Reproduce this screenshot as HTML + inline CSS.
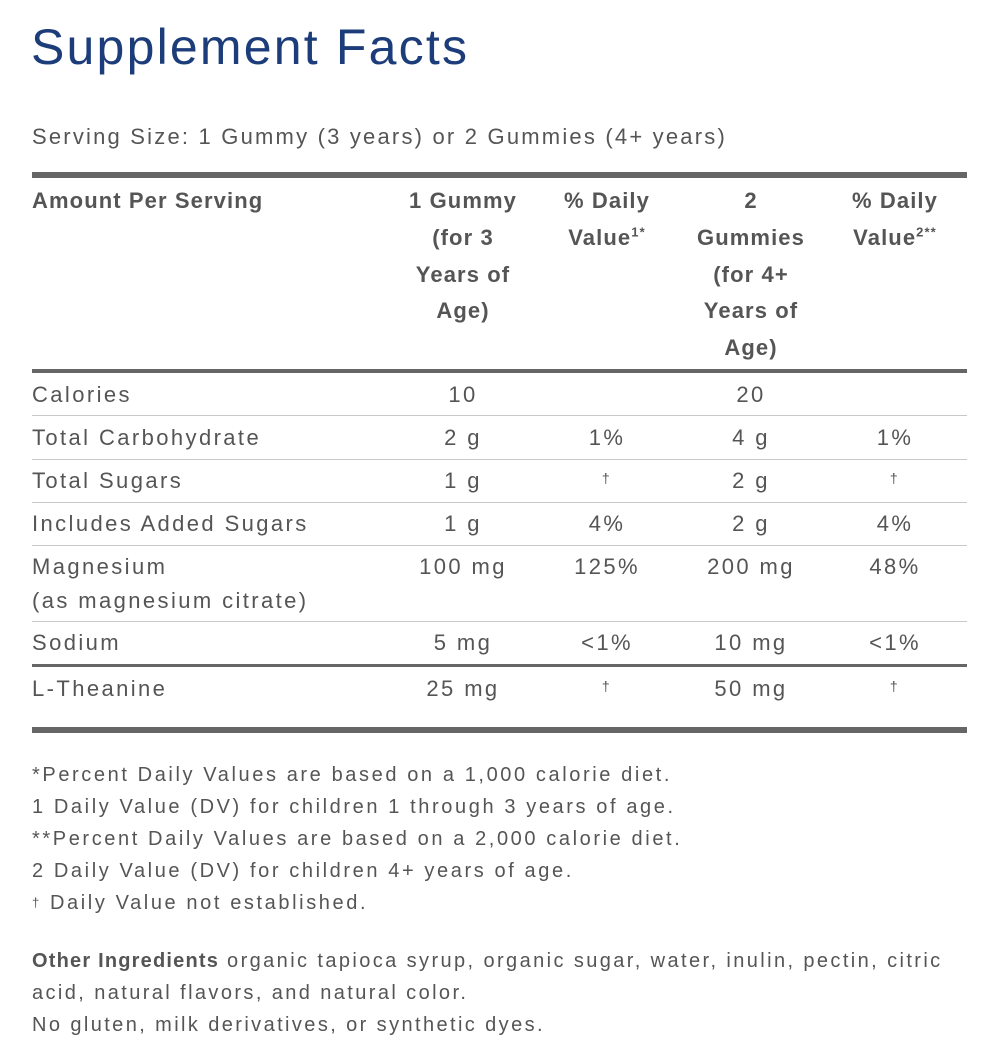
<!DOCTYPE html>
<html><head><meta charset="utf-8"><style>
body{margin:0;width:1000px;height:1047px;background:#fff;position:relative;font-family:"Liberation Sans",sans-serif;color:#555;overflow:hidden}
.a{position:absolute;white-space:nowrap}
.t{font-size:22px;line-height:24px;letter-spacing:2.4px}
.c{text-align:center;transform:translateX(-50%)}
.h{font-weight:bold;font-size:22px;line-height:36.8px;text-align:center;transform:translateX(-50%);letter-spacing:1.1px}
.l{position:absolute;left:32px;width:935px}
sup{font-size:13px;line-height:0}
</style></head><body>
<div class="a" style="left:31px;top:18px;font-size:50px;color:#1c3d7a;line-height:58px;letter-spacing:2.2px">Supplement Facts</div>
<div class="a" style="left:32px;top:125px;font-size:22px;line-height:24px;letter-spacing:2.2px">Serving Size: 1 Gummy (3 years) or 2 Gummies (4+ years)</div>
<div class="l" style="top:172px;height:6px;background:#666"></div>
<div class="a" style="left:32px;top:183px;font-weight:bold;font-size:22px;line-height:36.8px;letter-spacing:1.1px">Amount Per Serving</div>
<div class="a h" style="left:463px;top:183px">1 Gummy<br>(for 3<br>Years of<br>Age)</div>
<div class="a h" style="left:607px;top:183px">% Daily<br>Value<sup>1*</sup></div>
<div class="a h" style="left:751px;top:183px">2<br>Gummies<br>(for 4+<br>Years of<br>Age)</div>
<div class="a h" style="left:895px;top:183px">% Daily<br>Value<sup>2**</sup></div>
<div class="l" style="top:369px;height:4px;background:#666"></div>

<div class="a t" style="left:32px;top:383px">Calories</div>
<div class="a t c" style="left:463px;top:383px">10</div>
<div class="a t c" style="left:751px;top:383px">20</div>
<div class="l" style="top:415px;height:1px;background:#c8c8c8"></div>

<div class="a t" style="left:32px;top:426px">Total Carbohydrate</div>
<div class="a t c" style="left:463px;top:426px">2 g</div>
<div class="a t c" style="left:607px;top:426px">1%</div>
<div class="a t c" style="left:751px;top:426px">4 g</div>
<div class="a t c" style="left:895px;top:426px">1%</div>
<div class="l" style="top:459px;height:1px;background:#c8c8c8"></div>

<div class="a t" style="left:32px;top:469px">Total Sugars</div>
<div class="a t c" style="left:463px;top:469px">1 g</div>
<div class="a t c" style="left:607px;top:466px;font-size:14px">†</div>
<div class="a t c" style="left:751px;top:469px">2 g</div>
<div class="a t c" style="left:895px;top:466px;font-size:14px">†</div>
<div class="l" style="top:502px;height:1px;background:#c8c8c8"></div>

<div class="a t" style="left:32px;top:512px">Includes Added Sugars</div>
<div class="a t c" style="left:463px;top:512px">1 g</div>
<div class="a t c" style="left:607px;top:512px">4%</div>
<div class="a t c" style="left:751px;top:512px">2 g</div>
<div class="a t c" style="left:895px;top:512px">4%</div>
<div class="l" style="top:545px;height:1px;background:#c8c8c8"></div>

<div class="a t" style="left:32px;top:555px;line-height:34px;margin-top:-5px">Magnesium<br>(as magnesium citrate)</div>
<div class="a t c" style="left:463px;top:555px">100 mg</div>
<div class="a t c" style="left:607px;top:555px">125%</div>
<div class="a t c" style="left:751px;top:555px">200 mg</div>
<div class="a t c" style="left:895px;top:555px">48%</div>
<div class="l" style="top:621px;height:1px;background:#c8c8c8"></div>

<div class="a t" style="left:32px;top:631px">Sodium</div>
<div class="a t c" style="left:463px;top:631px">5 mg</div>
<div class="a t c" style="left:607px;top:631px">&lt;1%</div>
<div class="a t c" style="left:751px;top:631px">10 mg</div>
<div class="a t c" style="left:895px;top:631px">&lt;1%</div>
<div class="l" style="top:664px;height:3px;background:#666"></div>

<div class="a t" style="left:32px;top:677px">L-Theanine</div>
<div class="a t c" style="left:463px;top:677px">25 mg</div>
<div class="a t c" style="left:607px;top:674px;font-size:14px">†</div>
<div class="a t c" style="left:751px;top:677px">50 mg</div>
<div class="a t c" style="left:895px;top:674px;font-size:14px">†</div>
<div class="l" style="top:727px;height:6px;background:#666"></div>

<div class="a" style="left:32px;top:759px;font-size:20px;line-height:32px;letter-spacing:2.6px">*Percent Daily Values are based on a 1,000 calorie diet.<br>1 Daily Value (DV) for children 1 through 3 years of age.<br>**Percent Daily Values are based on a 2,000 calorie diet.<br>2 Daily Value (DV) for children 4+ years of age.<br><span style="font-size:13px;vertical-align:top">†</span> Daily Value not established.</div>

<div class="a" style="left:32px;top:945px;font-size:20px;line-height:32px;letter-spacing:2.4px"><b style="letter-spacing:1.2px">Other Ingredients</b> organic tapioca syrup, organic sugar, water, inulin, pectin, citric<br>acid, natural flavors, and natural color.<br>No gluten, milk derivatives, or synthetic dyes.</div>
</body></html>
